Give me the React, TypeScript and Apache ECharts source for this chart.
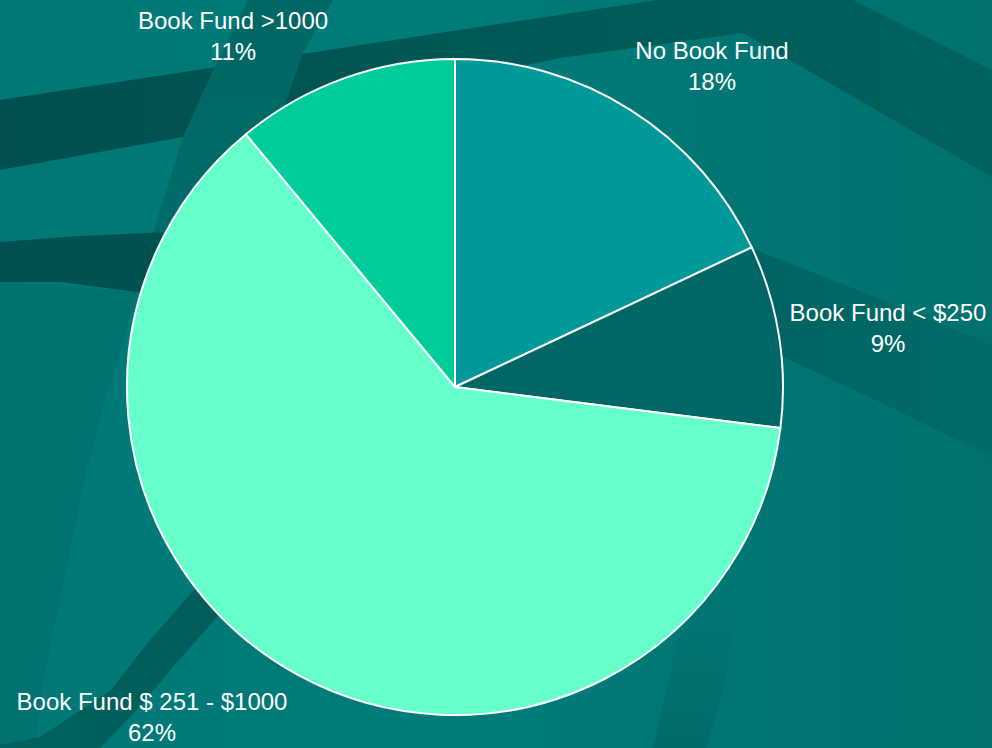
import React, { useEffect, useRef } from "react";
import * as echarts from "echarts";

const categories = ["No Book Fund", "Book Fund < $250", "Book Fund $ 251 - $1000", "Book Fund >1000"];
const shares = [18, 9, 62, 11];
const sliceColors = ["#009999", "#006666", "#66FFCC", "#00CC99"];

// label block centres (layout only)
const labelAnchors: number[][] = [
  [712, 66],
  [888, 328],
  [152, 717],
  [233, 36],
];

const W = 992;
const H = 748;

function lin(x2: number, y2: number, stops: [number, string][]) {
  return {
    type: "linear",
    x: 0,
    y: 0,
    x2,
    y2,
    colorStops: stops.map(([offset, color]) => ({ offset, color })),
  };
}

function background(): any[] {
  return [
    {
      type: "rect",
      shape: { x: 0, y: 0, width: W, height: H },
      style: { fill: lin(1, 0, [[0, "#007876"], [0.45, "#007C7A"], [1, "#00716F"]]) },
      z: -20,
      silent: true,
    },
    // darker lower-left region
    {
      type: "polygon",
      shape: {
        points: [[0, 282], [137, 292], [127, 327], [105, 400], [87, 467], [65, 575], [43, 680], [35, 748], [0, 748]],
      },
      style: { fill: "#00726F" },
      z: -19,
      silent: true,
    },
    // big dark ribbon across the top
    {
      type: "polygon",
      shape: {
        points: [[0, 100], [657, 0], [853, 0], [992, 70], [992, 177], [743, 33], [560, 58], [183, 137], [0, 170]],
      },
      style: { fill: lin(1, 0, [[0, "#004F4D"], [0.5, "#005956"], [1, "#00625F"]]) },
      z: -18,
      silent: true,
    },
    // diagonal medium band top-left
    {
      type: "polygon",
      shape: {
        points: [[248, 0], [333, 0], [303, 53], [283, 110], [255, 180], [225, 260], [140, 290], [153, 233], [183, 137], [213, 70]],
      },
      style: { fill: lin(0, 1, [[0, "#006764"], [1, "#006D6A"]]) },
      z: -17,
      silent: true,
    },
    // dark arc band on the left
    {
      type: "polygon",
      shape: {
        points: [[0, 242], [80, 236], [170, 232], [260, 234], [260, 305], [180, 297], [137, 292], [60, 282], [0, 282]],
      },
      style: { fill: "#00514F" },
      z: -16,
      silent: true,
    },
    // band behind the "< $250" label
    {
      type: "polygon",
      shape: {
        points: [[690, 226], [751, 248], [850, 287], [992, 345], [992, 457], [880, 402], [783, 357], [690, 320]],
      },
      style: { fill: lin(1, 0, [[0, "#006260"], [1, "#006B68"]]) },
      z: -15,
      silent: true,
    },
    // dark diagonal band lower-left
    {
      type: "polygon",
      shape: {
        points: [[270, 520], [193, 591], [150, 640], [110, 691], [40, 737], [0, 745], [0, 748], [100, 748], [140, 707], [173, 667], [217, 617], [290, 545]],
      },
      style: { fill: lin(1, 0, [[0, "#00625F"], [1, "#005B58"]]) },
      z: -14,
      silent: true,
    },
    // subtle band bottom centre
    {
      type: "polygon",
      shape: {
        points: [[700, 580], [735, 595], [733, 625], [727, 677], [707, 748], [653, 748], [665, 695], [677, 643], [690, 610]],
      },
      style: { fill: lin(0, 1, [[0, "#007876"], [1, "#006B69"]]) },
      z: -13,
      silent: true,
    },
  ];
}

export default function App() {
  const ref = useRef<HTMLDivElement>(null);

  useEffect(() => {
    if (!ref.current) return;
    const chart = echarts.init(ref.current, undefined, { renderer: "svg", width: W, height: H });
    chart.setOption({
      animation: false,
      backgroundColor: "#007977",
      graphic: { elements: background() },
      series: [
        {
          type: "pie",
          center: [455, 387],
          radius: 328,
          startAngle: 90,
          clockwise: true,
          avoidLabelOverlap: false,
          data: categories.map((name, i) => ({
            name,
            value: shares[i],
            itemStyle: { color: sliceColors[i] },
          })),
          itemStyle: { borderColor: "#FFFFFF", borderWidth: 2 },
          label: {
            show: true,
            position: "outside",
            color: "#FFFFFF",
            fontFamily: "'Liberation Sans', Arial, sans-serif",
            fontSize: 24,
            lineHeight: 31,
            align: "center",
            formatter: (p: any) => `${p.name}\n${Math.round(p.percent)}%`,
          },
          labelLine: { show: false },
          labelLayout: (params: any) => ({
            x: labelAnchors[params.dataIndex][0],
            y: labelAnchors[params.dataIndex][1],
            align: "center",
            verticalAlign: "middle",
          }),
          emphasis: { disabled: true },
        },
      ],
    });
    return () => chart.dispose();
  }, []);

  return (
    <div
      ref={ref}
      style={{ position: "fixed", left: 0, top: 0, width: W, height: H }}
    />
  );
}
